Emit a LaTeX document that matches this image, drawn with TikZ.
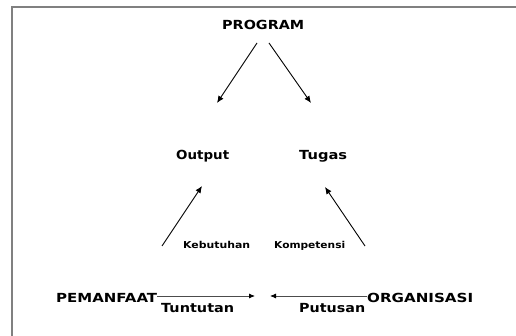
\documentclass[tikz,border=0pt]{standalone}
\usepackage{fontspec}
\usepackage{graphicx}
\setmainfont{DejaVu Sans}
\usetikzlibrary{arrows.meta}
\newcommand{\fitw}[2]{\resizebox{#1}{\height}{#2}}
\tikzset{
  big/.style={inner sep=0pt, font=\fontsize{12.5}{14}\selectfont\bfseries, anchor=base west},
  small/.style={inner sep=0pt, font=\fontsize{9.5}{11}\selectfont\bfseries, anchor=base west},
  arr/.style={line width=0.9pt, -{Latex[length=7pt,width=6pt]}},
  harr/.style={line width=0.8pt, draw=black!70, -{Latex[length=6pt,width=5pt,fill=black,color=black]}},
  frame/.style={draw=black!50, line width=1.6pt}
}
\begin{document}
\begin{tikzpicture}[x=1pt,y=-1pt]
\useasboundingbox (0,0) rectangle (516,336);
\fill[white] (0,0) rectangle (516,336);
\draw[frame] (12,336) -- (12,7) -- (516,7);

\node[big] (program) at (222,29.5) {\fitw{82pt}{PROGRAM}};
\node[big] (output) at (176,160) {\fitw{53pt}{Output}};
\node[big] (tugas) at (299,160) {\fitw{48pt}{Tugas}};
\node[small] (kebutuhan) at (183,249) {\fitw{67pt}{Kebutuhan}};
\node[small] (kompetensi) at (274,249) {\fitw{71pt}{Kompetensi}};
\node[big] (pemanfaat) at (56,302.5) {\fitw{101pt}{PEMANFAAT}};
\node[big] (organisasi) at (367,302.5) {\fitw{106pt}{ORGANISASI}};
\node[big] (tuntutan) at (161,312.5) {\fitw{73pt}{Tuntutan}};
\node[big] (putusan) at (299,312.5) {\fitw{66pt}{Putusan}};

\coordinate (p1) at (257,43);
\coordinate (q1) at (217,103);
\coordinate (p2) at (269,43);
\coordinate (q2) at (311,103);
\coordinate (k1) at (162,246);
\coordinate (o1) at (202,186);
\coordinate (k2) at (365,246);
\coordinate (t2) at (325,187);
\coordinate (m1) at (255,296);
\coordinate (m2) at (270,296);

\draw[arr] (p1) -- (q1);
\draw[arr] (p2) -- (q2);
\draw[arr] (k1) -- (o1);
\draw[arr] (k2) -- (t2);
\draw[harr] (pemanfaat.east |- m1) -- (m1);
\draw[harr] (organisasi.west |- m2) -- (m2);
\end{tikzpicture}
\end{document}
